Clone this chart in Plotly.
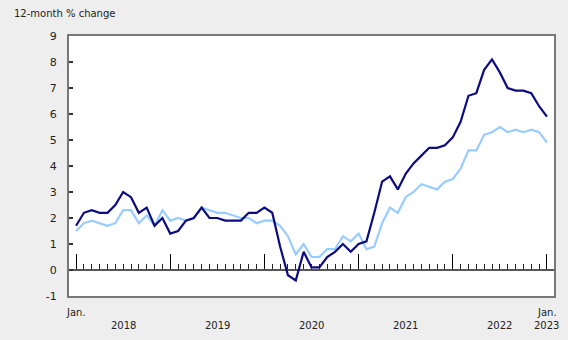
import plotly.graph_objects as go

# month index 0 = Jan. 2018 ... 60 = Jan. 2023
months = list(range(61))

series_dark = [1.7, 2.2, 2.3, 2.2, 2.2, 2.5, 3.0, 2.8, 2.2, 2.4, 1.7, 2.0,
               1.4, 1.5, 1.9, 2.0, 2.4, 2.0, 2.0, 1.9, 1.9, 1.9, 2.2, 2.2,
               2.4, 2.2, 0.9, -0.2, -0.4, 0.7, 0.1, 0.1, 0.5, 0.7, 1.0, 0.7,
               1.0, 1.1, 2.2, 3.4, 3.6, 3.1, 3.7, 4.1, 4.4, 4.7, 4.7, 4.8,
               5.1, 5.7, 6.7, 6.8, 7.7, 8.1, 7.6, 7.0, 6.9, 6.9, 6.8, 6.3,
               5.9]

series_light = [1.5, 1.8, 1.9, 1.8, 1.7, 1.8, 2.3, 2.3, 1.8, 2.1, 1.7, 2.3,
                1.9, 2.0, 1.9, 2.0, 2.4, 2.3, 2.2, 2.2, 2.1, 2.0, 2.0, 1.8,
                1.9, 1.9, 1.7, 1.3, 0.6, 1.0, 0.5, 0.5, 0.8, 0.8, 1.3, 1.1,
                1.4, 0.8, 0.9, 1.8, 2.4, 2.2, 2.8, 3.0, 3.3, 3.2, 3.1, 3.4,
                3.5, 3.9, 4.6, 4.6, 5.2, 5.3, 5.5, 5.3, 5.4, 5.3, 5.4, 5.3,
                4.9]

row1_labels_x = [0, 60]
row1_labels = ["Jan.", "Jan."]
year_labels_x = [6, 18, 30, 42, 54, 60]
year_labels = ["2018", "2019", "2020", "2021", "2022", "2023"]

y_tickvals = [-1, 0, 1, 2, 3, 4, 5, 6, 7, 8, 9]
y_ticktext = ["-1", "0", "1", "2", "3", "4", "5", "6", "7", "8", "9"]

y_title = "12-month % change"

FONT = "DejaVu Sans"
TXT = "#222222"
xr = [-0.9, 60.9]

fig = go.Figure()
# helper trace so the zero-line tick axis is drawn
fig.add_trace(go.Scatter(x=[0], y=[None], xaxis="x2", showlegend=False, hoverinfo="skip"))
fig.add_trace(go.Scatter(x=months, y=series_light, mode="lines",
                         line=dict(color="#99ccff", width=2.2), showlegend=False))
fig.add_trace(go.Scatter(x=months, y=series_dark, mode="lines",
                         line=dict(color="#0c0c80", width=2.2), showlegend=False))

ann = []
for xv, t in zip(row1_labels_x, row1_labels):
    ann.append(dict(x=xv, y=-0.062, xref="x", yref="paper", text=t, showarrow=False,
                    xanchor="center", yanchor="middle", font=dict(family=FONT, size=10, color=TXT)))
for xv, t in zip(year_labels_x, year_labels):
    ann.append(dict(x=xv, y=-0.115, xref="x", yref="paper", text=t, showarrow=False,
                    xanchor="center", yanchor="middle", font=dict(family=FONT, size=10, color=TXT)))

fig.update_layout(
    width=568, height=340,
    margin=dict(l=69, r=14, t=36, b=44),
    paper_bgcolor="#eeeeee", plot_bgcolor="#ffffff",
    font=dict(family=FONT, size=10, color=TXT),
    title=dict(text=y_title, x=14/568, xanchor="left", xref="container",
               y=1 - 13/340, yanchor="middle", yref="container",
               font=dict(family=FONT, size=10, color=TXT)),
    xaxis=dict(range=xr, showgrid=False, zeroline=False, showticklabels=False,
               ticks="", showline=True, mirror=True, linecolor="#777777", linewidth=2,
               layer="below traces", fixedrange=True),
    xaxis2=dict(range=xr, overlaying="x", anchor="free", position=0.1, side="bottom",
                showgrid=False, zeroline=False, showticklabels=False,
                tickmode="linear", tick0=0, dtick=12, ticks="inside", ticklen=15,
                tickwidth=1, tickcolor="#000000",
                minor=dict(tickmode="linear", tick0=0, dtick=1, ticks="inside", ticklen=5,
                           tickwidth=1, tickcolor="#222222", showgrid=False),
                showline=True, linecolor="#555555", linewidth=2, layer="below traces"),
    yaxis=dict(range=[-1, 9], tickmode="array", tickvals=y_tickvals, ticktext=y_ticktext,
               showgrid=False, zeroline=False, ticks="inside", ticklen=4, tickwidth=2,
               tickcolor="#333333", showline=True, mirror=True, linecolor="#777777",
               linewidth=2, ticklabelstandoff=8, tickfont=dict(family=FONT, size=11, color=TXT),
               layer="below traces"),
    annotations=ann,
)

fig.write_html("out.html")
